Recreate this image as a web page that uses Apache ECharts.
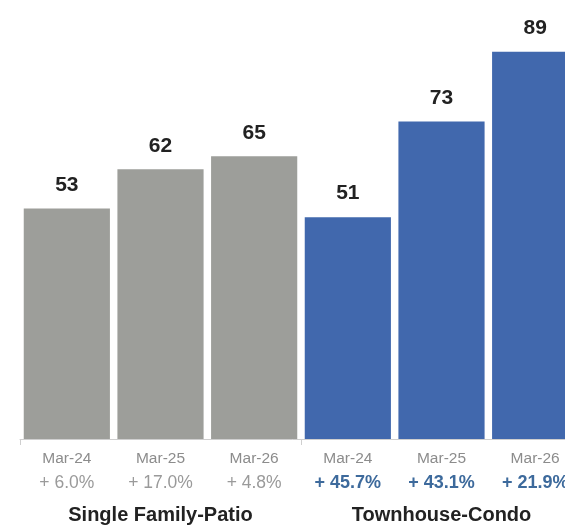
<!DOCTYPE html>
<html>
<head>
<meta charset="utf-8">
<script src="https://cdn.jsdelivr.net/npm/echarts@6/dist/echarts.min.js"></script>
<style>
  html, body { margin: 0; padding: 0; background: #fff; overflow: hidden; }
  #chart { width: 565px; height: 530px; }
</style>
</head>
<body>
<div id="chart"></div>
<script>
// Months shown under each bar
const months = ['Mar-24', 'Mar-25', 'Mar-26', 'Mar-24', 'Mar-25', 'Mar-26'];
// Year-over-year change labels
const changes = ['+ 6.0%', '+ 17.0%', '+ 4.8%', '+ 45.7%', '+ 43.1%', '+ 21.9%'];
// Property type groups (three months each)
const groups = ['Single Family-Patio', 'Townhouse-Condo'];
// Values per bar
const values = [53, 62, 65, 51, 73, 89];

const GRAY = '#9d9e9a';
const BLUE = '#4168ad';
const FONT = 'Liberation Sans, Arial, sans-serif';

const chart = echarts.init(document.getElementById('chart'));
chart.setOption({
  animation: false,
  // the plot runs past the right edge, so the last bar is clipped
  grid: { left: 20, width: 562, top: 4, bottom: 91, outerBoundsMode: 'none', containLabel: false },
  xAxis: [
    {
      type: 'category',
      data: months,
      axisLine: { lineStyle: { color: '#cfcfcf', width: 1 } },
      axisTick: {
        show: true,
        interval: (i) => i % 3 === 0,
        length: 6,
        lineStyle: { color: '#cfcfcf' }
      },
      axisLabel: {
        interval: 0,
        margin: 8,
        hideOverlap: false,
        formatter: (val, i) =>
          '{m|' + val + '}\n' + (i < 3 ? '{pg|' : '{pb|') + changes[i] + '}',
        rich: {
          m: { color: '#8c8c8c', fontSize: 15.5, fontFamily: FONT, lineHeight: 24 },
          pg: { color: '#9a9a9a', fontSize: 17.5, fontFamily: FONT, lineHeight: 24 },
          pb: { color: '#3d6a9c', fontSize: 18, fontWeight: 'bold', fontFamily: FONT, lineHeight: 24 }
        }
      }
    },
    {
      type: 'category',
      position: 'bottom',
      offset: 58,
      data: groups,
      axisLine: { show: false },
      axisTick: { show: false },
      axisLabel: {
        interval: 0,
        color: '#222',
        fontSize: 20,
        fontWeight: 'bold',
        fontFamily: FONT
      }
    }
  ],
  yAxis: {
    type: 'value',
    min: 0,
    max: 100,
    show: false,
    splitLine: { show: false }
  },
  series: [
    {
      type: 'bar',
      xAxisIndex: 0,
      barCategoryGap: '8%',
      data: values.map((v, i) => ({
        value: v,
        itemStyle: { color: i < 3 ? GRAY : BLUE }
      })),
      label: {
        show: true,
        position: 'top',
        distance: 13,
        color: '#222',
        fontSize: 21,
        fontWeight: 'bold',
        fontFamily: FONT
      }
    }
  ]
});
</script>
</body>
</html>
